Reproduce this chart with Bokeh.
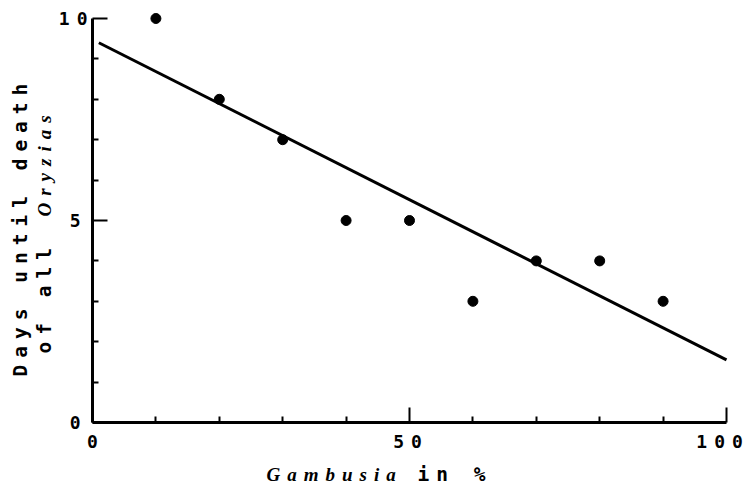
from math import pi
from bokeh.plotting import figure
from bokeh.models import Range1d, FixedTicker, Label, InlineStyleSheet
from bokeh.embed import file_html
from bokeh.resources import INLINE

# ---- data ----
gambusia_pct = [10, 20, 30, 40, 50, 60, 70, 80, 90]
days_until_death = [10, 8, 7, 5, 5, 3, 4, 4, 3]
fit_x = [1, 100]
fit_y = [9.4, 1.55]
x_major = [0, 50, 100]
x_minor = [10, 20, 30, 40, 60, 70, 80, 90]
y_major = [0, 5, 10]
y_minor = [1, 2, 3, 4, 6, 7, 8, 9]
x_tick_labels = ["0", "50", "100"]

# ---- layout (pixels) ----
W, H = 750, 486
X0_PX, X_PER = 92, 6.34      # pixel of x=0, pixels per x unit
Y0_PX, Y_PER = 422, 40.4     # pixel row of y=0, pixels per y unit
LS = 7                       # letter spacing (typewriter look)

def px2x(px):
    return (px - X0_PX) / X_PER

def px2y(py):
    return (Y0_PX - py) / Y_PER

MONO = "DejaVu Sans Mono"
ITAL = "Liberation Serif"

p = figure(width=W, height=H, title=None,
           x_range=Range1d(px2x(0), px2x(W)), y_range=Range1d(px2y(H), px2y(0)),
           output_backend="svg", toolbar_location=None,
           min_border_left=0, min_border_right=0,
           min_border_top=0, min_border_bottom=0)
p.stylesheets = [InlineStyleSheet(css=f":host {{ letter-spacing: {LS}px; }}")]

p.outline_line_color = None
p.xgrid.visible = False
p.ygrid.visible = False
p.background_fill_color = "white"
p.border_fill_color = "white"

xa = p.xaxis[0]
ya = p.yaxis[0]
for ax in (xa, ya):
    ax.axis_line_width = 3
    ax.axis_line_color = "black"
    ax.major_tick_in = 15
    ax.major_tick_out = 0
    ax.minor_tick_in = 6
    ax.minor_tick_out = 0
    ax.major_tick_line_width = 2
    ax.minor_tick_line_width = 2
    ax.major_tick_line_color = "black"
    ax.minor_tick_line_color = "black"
    ax.major_label_text_font = MONO
    ax.major_label_text_font_size = "18px"
    ax.major_label_text_font_style = "bold"
    ax.major_label_text_color = "black"

xa.ticker = FixedTicker(ticks=x_major, minor_ticks=x_minor)
ya.ticker = FixedTicker(ticks=y_major, minor_ticks=y_minor)
xa.bounds = (0, 100)
ya.bounds = (0, 10)
xa.fixed_location = 0
ya.fixed_location = 0
ya.major_label_standoff = 12
xa.major_label_standoff = 8
# trailing blanks re-centre the letter-spaced labels under their ticks
xa.major_label_overrides = {t: s + " " * (len(s) - 1) for t, s in zip(x_major, x_tick_labels)}

p.line(fit_x, fit_y, line_width=3, line_color="black")
p.scatter(gambusia_pct, days_until_death, size=10, color="black")

def lab(px, py, text, font, size, style, angle=0.0):
    p.add_layout(Label(x=px2x(px), y=px2y(py), text=text, angle=angle,
                       text_align="left", text_baseline="middle",
                       text_font=font, text_font_size=size,
                       text_font_style=style, text_color="black"))

# y-axis title (two rotated lines)
lab(20, 376, "Days until death", MONO, "19.5px", "bold", angle=pi / 2)
lab(44, 353, "of all", MONO, "19.5px", "bold", angle=pi / 2)
lab(44, 216, "Oryzias", ITAL, "19px", "bold italic", angle=pi / 2)

# x-axis title
lab(266, 474, "Gambusia", ITAL, "19px", "bold italic")
lab(417, 474, "in %", MONO, "19.5px", "bold")

open("out.html", "w").write(file_html(p, INLINE))
